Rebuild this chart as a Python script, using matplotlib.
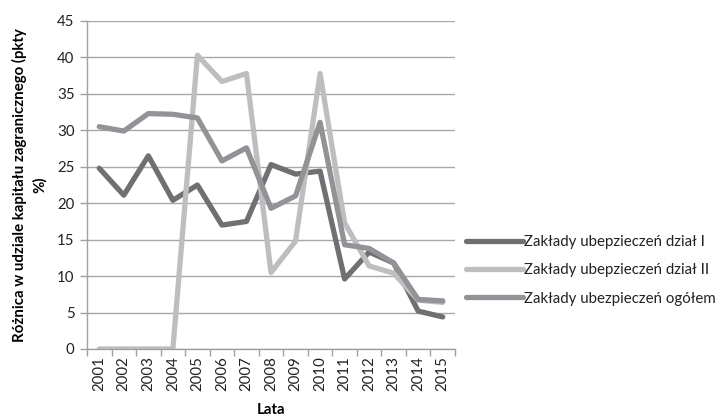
import matplotlib
matplotlib.use("Agg")
import matplotlib.pyplot as plt
from matplotlib.ticker import FixedLocator

years = ["2001", "2002", "2003", "2004", "2005", "2006", "2007", "2008",
         "2009", "2010", "2011", "2012", "2013", "2014", "2015"]
dzial_1 = [24.8, 21.1, 26.5, 20.4, 22.5, 17.0, 17.5, 25.3, 24.0, 24.4, 9.6, 13.3, 11.8, 5.2, 4.4]
dzial_2 = [0.0, 0.0, 0.0, 0.0, 40.3, 36.7, 37.8, 10.5, 14.8, 37.8, 17.3, 11.4, 10.4, 6.7, 6.4]
ogolem = [30.5, 29.9, 32.3, 32.2, 31.7, 25.8, 27.6, 19.3, 21.0, 31.1, 14.3, 13.8, 11.8, 6.8, 6.6]
series_names = ["Zakłady ubepzieczeń dział I", "Zakłady ubepzieczeń dział II",
                "Zakłady ubezpieczeń ogółem"]
yticks = [0, 5, 10, 15, 20, 25, 30, 35, 40, 45]

plt.rcParams['font.family'] = ['Lato', 'DejaVu Sans']
FS = 10.8

fig = plt.figure(figsize=(7.26, 4.2), dpi=100)
ax = fig.add_axes([87/726, 1-349/420, (455-87)/726, (349-21)/420])

x = list(range(1, len(years)+1))
colors = ["#707073", "#bdbec0", "#929396"]
for vals, name, c in zip([dzial_1, dzial_2, ogolem], series_names, colors):
    ax.plot(x, vals, color=c, lw=3.8, label=name, solid_joinstyle='round',
            solid_capstyle='round')

ax.set_xlim(0.5, len(years)+0.5)
ax.set_ylim(0, 45)
ax.set_yticks(yticks)
ax.set_yticklabels([str(v) for v in yticks], fontsize=FS, color="#222222")
ax.set_xticks(x)
ax.set_xticklabels(years, rotation=90, fontsize=FS, color="#222222")
ax.tick_params(axis='x', which='major', length=0, pad=5)
ax.xaxis.set_minor_locator(FixedLocator([i+0.5 for i in range(0, len(years)+1)]))
ax.tick_params(axis='x', which='minor', length=5, color="#a0a0a0", width=1)
ax.tick_params(axis='y', length=5, color="#a0a0a0", width=1, pad=4)

ax.grid(axis='y', color="#a8a8a8", lw=1)
ax.set_axisbelow(True)
for s in ['top', 'right']:
    ax.spines[s].set_visible(False)
for s in ['left', 'bottom']:
    ax.spines[s].set_color("#a0a0a0")
    ax.spines[s].set_linewidth(1)

ax.set_xlabel("Lata", fontsize=FS, fontweight='bold', labelpad=9)
ax.set_ylabel("Różnica w udziale kapitału zagranicznego (pkty\n%)", fontsize=FS,
              fontweight='bold', labelpad=7, linespacing=1.5)

leg = ax.legend(loc='center left', bbox_to_anchor=(1.0, 0.24), frameon=False,
                fontsize=FS, handlelength=3.8, handletextpad=0.1, labelspacing=0.95,
                borderaxespad=0.3)
for t in leg.get_texts():
    t.set_color("#222222")

fig.savefig("out.png", dpi=100)
